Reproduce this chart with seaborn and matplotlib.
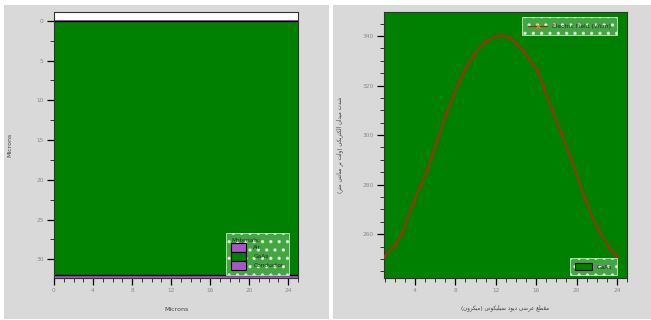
import matplotlib
matplotlib.use("Agg")
import matplotlib.pyplot as plt
from matplotlib.patches import Patch, Rectangle
from matplotlib.lines import Line2D
from matplotlib.ticker import MultipleLocator, FixedLocator
import pandas as pd
import seaborn as sns

# ---- device cross-section (left panel) ----
material_names = ["Air", "GaAs", "Conductor"]
material_top = [-1.1, 0.0, 32.0]
material_bottom = [0.0, 32.0, 32.35]
region_colors = ["#ffffff", "#008000", "#a855c8"]
legend_colors = ["#a855c8", "#008000", "#a855c8"]

left_xticks = [0, 4, 8, 12, 16, 20, 24]
left_yticks = [0, 5, 10, 15, 20, 25, 30]

# ---- electric field cut-line (right panel) ----
field_x = [0.9, 2.0, 2.7, 3.8, 4.5, 5.2, 6.2, 7.1, 8.3, 9.0, 9.8, 10.9, 12.3,
           13.3, 14.0, 14.7, 16.1, 16.8, 17.6, 18.5, 19.4, 20.9, 22.0, 23.3, 24.0]
field_v = [250.9, 255.5, 260.3, 272.4, 279.0, 285.8, 297.9, 308.7, 320.8, 327.0,
           332.2, 337.6, 340.3, 339.6, 337.3, 334.2, 326.1, 319.0, 310.0, 301.0,
           291.2, 273.7, 263.0, 254.2, 251.0]
right_xticks = [4, 8, 12, 16, 20, 24]
right_yticks = [260, 280, 300, 320, 340]

xlabel_fa = "مقطع عرضی دیود سیلیکونی (میکرون)"
ylabel_fa = "شدت میدان الکتریکی (ولت بر سانتی متر)"

# Persian contextual forms (matplotlib does no Arabic shaping on its own)
FORMS = {
    'ا': ('\uFE8D', '\uFE8E'),
    'د': ('\uFEA9', '\uFEAA'),
    'ر': ('\uFEAD', '\uFEAE'),
    'و': ('\uFEED', '\uFEEE'),
    'ب': ('\uFE8F', '\uFE90', '\uFE91', '\uFE92'),
    'ت': ('\uFE95', '\uFE96', '\uFE97', '\uFE98'),
    'س': ('\uFEB1', '\uFEB2', '\uFEB3', '\uFEB4'),
    'ش': ('\uFEB5', '\uFEB6', '\uFEB7', '\uFEB8'),
    'ض': ('\uFEBD', '\uFEBE', '\uFEBF', '\uFEC0'),
    'ط': ('\uFEC1', '\uFEC2', '\uFEC3', '\uFEC4'),
    'ع': ('\uFEC9', '\uFECA', '\uFECB', '\uFECC'),
    'ق': ('\uFED5', '\uFED6', '\uFED7', '\uFED8'),
    'ک': ('\uFB8E', '\uFB8F', '\uFB90', '\uFB91'),
    'ل': ('\uFEDD', '\uFEDE', '\uFEDF', '\uFEE0'),
    'م': ('\uFEE1', '\uFEE2', '\uFEE3', '\uFEE4'),
    'ن': ('\uFEE5', '\uFEE6', '\uFEE7', '\uFEE8'),
    'ی': ('\uFBFC', '\uFBFD', '\uFBFE', '\uFBFF'),
}


def shape_rtl(text):
    out = []
    n = len(text)
    for i, ch in enumerate(text):
        f = FORMS.get(ch)
        if f is None:
            out.append({'(': ')', ')': '('}.get(ch, ch))
            continue
        prev = text[i - 1] if i > 0 else ''
        nxt = text[i + 1] if i + 1 < n else ''
        join_prev = len(FORMS.get(prev, ())) == 4
        join_next = len(f) == 4 and nxt in FORMS
        if join_prev and join_next:
            out.append(f[3])
        elif join_prev:
            out.append(f[1])
        elif join_next:
            out.append(f[2])
        else:
            out.append(f[0])
    return ''.join(reversed(out))


sns.set_style("ticks")
plt.rcParams['font.family'] = ['DejaVu Sans']
plt.rcParams['hatch.linewidth'] = 1.2

W, H = 651, 320
fig = plt.figure(figsize=(W / 100, H / 100), dpi=100)
fig.patch.set_facecolor('white')
for x0, x1 in [(4, 329), (333, 651)]:
    fig.add_artist(Rectangle((x0 / W, 1 / H), (x1 - x0) / W, 314 / H,
                             transform=fig.transFigure, fc='#d9d9d9',
                             ec='none', zorder=0))

ax1 = fig.add_axes([54 / W, 1 - 278 / H, 244 / W, 266 / H])
ax2 = fig.add_axes([384 / W, 1 - 278 / H, 243 / W, 266 / H])

TICK_C = '#8a8a8a'
LBL = 4.2


def style_axis(ax):
    ax.tick_params(which='major', direction='out', length=5, width=0.9,
                   color='black', labelsize=LBL, labelcolor=TICK_C, pad=2.5)
    ax.tick_params(which='minor', direction='out', length=2.8, width=0.7,
                   color='#333333')
    for s in ax.spines.values():
        s.set_color('#333333')
        s.set_linewidth(0.8)


def dotted_frame(leg):
    # green box with a grid of pale dots
    fr = leg.get_frame()
    fr.set_facecolor('#55b055')
    fr.set_edgecolor('#eef9ee')
    fr.set_linewidth(0.6)
    fr.set_hatch('..')


# ---- left panel: material regions ----
ax1.set_facecolor('white')
for name, top, bot, col in zip(material_names, material_top, material_bottom, region_colors):
    ax1.axhspan(top, bot, color=col, lw=0, zorder=1)
ax1.axhspan(-0.12, 0.0, color=region_colors[2], lw=0, zorder=1)
ax1.axhline(material_top[1], color='black', lw=0.9, zorder=2)
ax1.axhline(material_bottom[1], color='black', lw=1.0, zorder=2)
ax1.set_xlim(0, 25)
ax1.set_ylim(material_bottom[-1], material_top[0])
ax1.xaxis.set_major_locator(FixedLocator(left_xticks))
ax1.yaxis.set_major_locator(FixedLocator(left_yticks))
ax1.xaxis.set_minor_locator(MultipleLocator(1))
ax1.yaxis.set_minor_locator(MultipleLocator(2.5))
style_axis(ax1)
ax1.set_xlabel("Microns", fontsize=4.5, color='#444444', labelpad=10)
ax1.set_ylabel("Microns", fontsize=4.5, color='#444444', labelpad=17)

mat_handles = [Patch(facecolor=c, edgecolor='black', lw=0.8) for c in legend_colors]
leg1 = ax1.legend(mat_handles, material_names, title="Materials:",
                  loc='lower right', bbox_to_anchor=(0.963, 0.011),
                  fontsize=4.2, title_fontsize=4.2, handlelength=2.6,
                  handleheight=2.0, labelspacing=0.0, handletextpad=1.2,
                  borderpad=0.9, frameon=True, fancybox=False, borderaxespad=0)
leg1._legend_box.align = "left"
dotted_frame(leg1)

# ---- right panel: electric field along the cut-line ----
ax2.set_facecolor('#008000')
df = pd.DataFrame({"x": field_x, "E": field_v})
sns.lineplot(data=df, x="x", y="E", ax=ax2, color='#9a3410', lw=1.5,
             marker='o', markersize=2.6, markeredgewidth=0, legend=False,
             zorder=3)
ax2.set_xlim(0.93, 25.0)
ax2.set_ylim(242.3, 349.7)
ax2.xaxis.set_major_locator(FixedLocator(right_xticks))
ax2.yaxis.set_major_locator(FixedLocator(right_yticks))
ax2.xaxis.set_minor_locator(MultipleLocator(1))
ax2.yaxis.set_minor_locator(MultipleLocator(5))
style_axis(ax2)
ax2.set_xlabel(shape_rtl(xlabel_fa), fontsize=4.0, color='#444444', labelpad=8)
ax2.set_ylabel(shape_rtl(ylabel_fa), fontsize=4.0, color='#444444', labelpad=14)

field_handle = Line2D([], [], color='#9a3410', lw=1.0, marker='x', ms=3,
                      mec='#e08a2a', mew=0.8)
leg_top = ax2.legend([field_handle], ["Electric Field (V/cm)"], loc='upper right',
                     bbox_to_anchor=(0.959, 0.981), fontsize=4.2,
                     handlelength=3.2, borderpad=1.1, frameon=True,
                     fancybox=False, borderaxespad=0)
ax2.add_artist(leg_top)
leg_bot = ax2.legend([Patch(facecolor='#008000', edgecolor='black', lw=0.8)], ["GaAs"],
                     loc='lower right', bbox_to_anchor=(0.959, 0.011), fontsize=4.2,
                     handlelength=3.0, handleheight=1.6, borderpad=0.8,
                     frameon=True, fancybox=False, borderaxespad=0)
dotted_frame(leg_top)
dotted_frame(leg_bot)

fig.savefig("out.png", dpi=100, facecolor=fig.get_facecolor())
